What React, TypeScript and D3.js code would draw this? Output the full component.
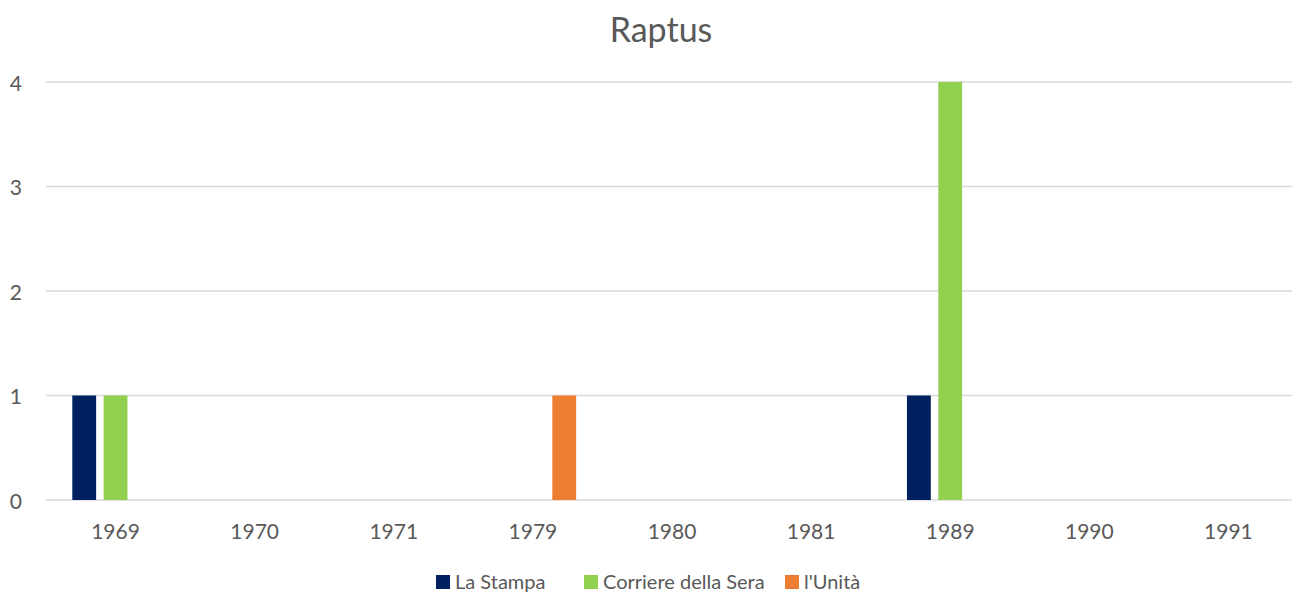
import React from "react";
import * as d3 from "d3";

const categories = ["1969", "1970", "1971", "1979", "1980", "1981", "1989", "1990", "1991"];
const seriesNames = ["La Stampa", "Corriere della Sera", "l'Unità"];
const laStampa = [1, 0, 0, 0, 0, 0, 1, 0, 0];
const corriere = [1, 0, 0, 0, 0, 0, 4, 0, 0];
const unita = [0, 0, 0, 1, 0, 0, 0, 0, 0];
const yTicks = [0, 1, 2, 3, 4];
const colors = ["#002060", "#92D050", "#ED7D31"];
const title = "Raptus";

export default function App() {
  const W = 1292, H = 594;
  const left = 46, right = 1298, top = 82, bottom = 500;
  const x = d3.scaleBand<string>().domain(categories).range([left, right]).paddingInner(0).paddingOuter(0);
  const y = d3.scaleLinear().domain([0, 4]).range([bottom, top]);
  const seriesData = [laStampa, corriere, unita];
  const bw = x.bandwidth();
  const groupPad = 26.3;
  const inner = d3.scaleBand<number>().domain([0, 1, 2]).range([groupPad, bw - groupPad]).paddingInner(0.24).paddingOuter(0);
  const font = "Lato, 'Open Sans', sans-serif";
  const text = "#595959";
  const legendX = [436, 584, 785];
  return (
    <svg width={W} height={H} style={{ position: "absolute", left: 0, top: 0 }}>
      <rect width={W} height={H} fill="#fff" />
      <text x={661} y={28} textAnchor="middle" dominantBaseline="central" fontFamily={font} fontSize={34} fill={text}>{title}</text>
      {yTicks.map((t) => (
        <g key={t}>
          <line x1={left} x2={right} y1={y(t)} y2={y(t)} stroke="#d9d9d9" strokeWidth={1.3} />
          <text x={22} y={y(t)} textAnchor="end" dominantBaseline="central" fontFamily={font} fontSize={21} fill={text}>{t}</text>
        </g>
      ))}
      {seriesData.map((vals, si) =>
        vals.map((v, ci) =>
          v > 0 ? (
            <rect key={si + "-" + ci} x={(x(categories[ci]) as number) + (inner(si) as number)} y={y(v)} width={inner.bandwidth()} height={y(0) - y(v)} fill={colors[si]} />
          ) : null
        )
      )}
      {categories.map((c) => (
        <text key={c} x={(x(c) as number) + bw / 2} y={530} textAnchor="middle" dominantBaseline="central" fontFamily={font} fontSize={21} fill={text}>{c}</text>
      ))}
      {seriesNames.map((s, i) => (
        <g key={s}>
          <rect x={legendX[i]} y={575} width={14} height={14} fill={colors[i]} />
          <text x={legendX[i] + 19} y={581} dominantBaseline="central" fontFamily={font} fontSize={20} fill={text}>{s}</text>
        </g>
      ))}
    </svg>
  );
}
